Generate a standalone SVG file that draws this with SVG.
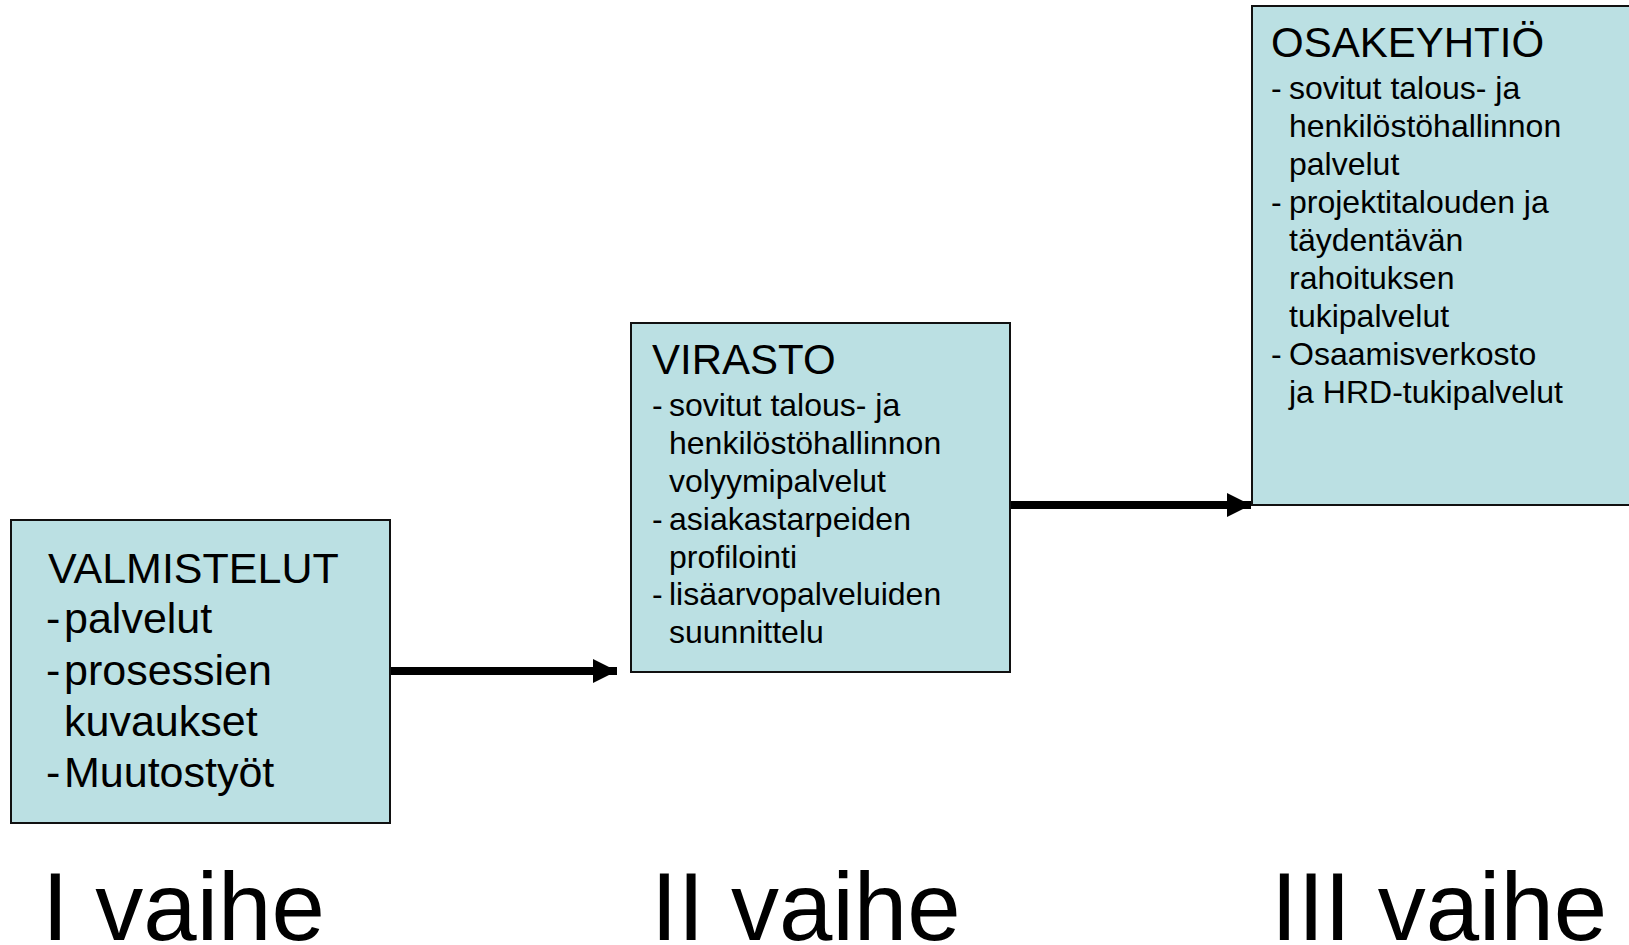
<svg xmlns="http://www.w3.org/2000/svg" width="1629" height="945" viewBox="0 0 1629 945">
<style>
.box{fill:#BBE0E3;stroke:#111;stroke-width:2}
.t{font-family:"Liberation Sans",Arial,sans-serif;fill:#000}
.h{font-size:42px}
.h1{font-size:43px}
.s{font-size:32px}
.big{font-size:96px}
.conn{stroke:#000;stroke-width:8;fill:none}
</style>
<defs>
<marker id="ah" markerUnits="userSpaceOnUse" markerWidth="24" markerHeight="24" refX="24" refY="12" orient="auto">
<path d="M0,0 L24,12 L0,24 Z" fill="#000"/>
</marker>
</defs>
<rect width="1629" height="945" fill="#fff"/>
<g id="connectors">
<line class="conn" x1="391" y1="671" x2="617" y2="671" marker-end="url(#ah)"/>
<line class="conn" x1="1011" y1="505" x2="1251" y2="505" marker-end="url(#ah)"/>
</g>
<g id="valmistelut">
<rect class="box" x="11" y="520" width="379" height="303"/>
<text class="t h1" x="48" y="583">VALMISTELUT</text>
<text class="t h1" x="46" y="633">-</text><text class="t h1" x="64" y="633">palvelut</text>
<text class="t h1" x="46" y="685">-</text><text class="t h1" x="64" y="685">prosessien</text>
<text class="t h1" x="64" y="736">kuvaukset</text>
<text class="t h1" x="46" y="787">-</text><text class="t h1" x="64" y="787">Muutostyöt</text>
</g>
<g id="virasto">
<rect class="box" x="631" y="323" width="379" height="349"/>
<text class="t h" x="652" y="374">VIRASTO</text>
<text class="t s" x="652" y="416">-</text><text class="t s" x="669" y="416">sovitut talous- ja</text>
<text class="t s" x="669" y="454">henkilöstöhallinnon</text>
<text class="t s" x="669" y="492">volyymipalvelut</text>
<text class="t s" x="652" y="530">-</text><text class="t s" x="669" y="530">asiakastarpeiden</text>
<text class="t s" x="669" y="568">profilointi</text>
<text class="t s" x="652" y="605">-</text><text class="t s" x="669" y="605">lisäarvopalveluiden</text>
<text class="t s" x="669" y="643">suunnittelu</text>
</g>
<g id="osakeyhtio">
<rect class="box" x="1252" y="6" width="400" height="499"/>
<text class="t h" x="1271" y="57">OSAKEYHTIÖ</text>
<text class="t s" x="1271" y="99">-</text><text class="t s" x="1289" y="99">sovitut talous- ja</text>
<text class="t s" x="1289" y="137">henkilöstöhallinnon</text>
<text class="t s" x="1289" y="175">palvelut</text>
<text class="t s" x="1271" y="213">-</text><text class="t s" x="1289" y="213">projektitalouden ja</text>
<text class="t s" x="1289" y="251">täydentävän</text>
<text class="t s" x="1289" y="289">rahoituksen</text>
<text class="t s" x="1289" y="327">tukipalvelut</text>
<text class="t s" x="1271" y="365">-</text><text class="t s" x="1289" y="365">Osaamisverkosto</text>
<text class="t s" x="1289" y="403">ja HRD-tukipalvelut</text>
</g>
<g id="phases">
<text class="t big" x="42" y="940">I vaihe</text>
<text class="t big" x="651" y="940">II vaihe</text>
<text class="t big" x="1271" y="940">III vaihe</text>
</g>
</svg>
